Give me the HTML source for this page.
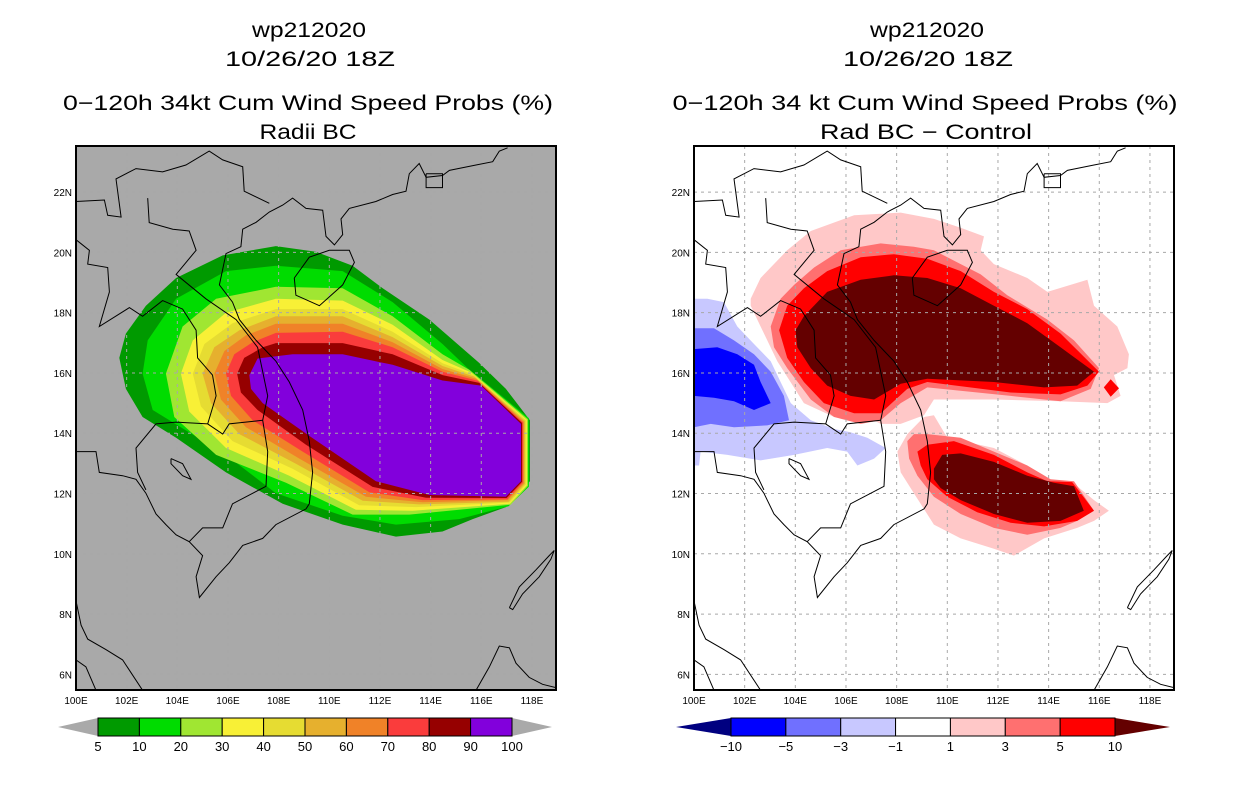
<!DOCTYPE html>
<html><head><meta charset="utf-8"><style>
html,body{margin:0;padding:0;background:#fff}
svg{display:block}
text{font-family:"Liberation Sans",sans-serif;fill:#000}
</style></head><body>
<svg id="fig" width="1236" height="800" viewBox="0 0 1236 800" xmlns="http://www.w3.org/2000/svg">
<rect width="1236" height="800" fill="#fff"/>
<g font-size="21" text-anchor="middle">
<text x="309" y="37" textLength="114" lengthAdjust="spacingAndGlyphs">wp212020</text>
<text x="310" y="66" textLength="170" lengthAdjust="spacingAndGlyphs">10/26/20 18Z</text>
<text x="308" y="110" textLength="490" lengthAdjust="spacingAndGlyphs">0−120h 34kt Cum Wind Speed Probs (%)</text>
<text x="308" y="139" textLength="97" lengthAdjust="spacingAndGlyphs">Radii BC</text>
</g>
<g font-size="21" text-anchor="middle">
<text x="927" y="37" textLength="114" lengthAdjust="spacingAndGlyphs">wp212020</text>
<text x="928" y="66" textLength="170" lengthAdjust="spacingAndGlyphs">10/26/20 18Z</text>
<text x="925" y="110" textLength="505" lengthAdjust="spacingAndGlyphs">0−120h 34 kt Cum Wind Speed Probs (%)</text>
<text x="926" y="139" textLength="212" lengthAdjust="spacingAndGlyphs">Rad BC − Control</text>
</g>
<defs>
<clipPath id="clipL"><rect x="76" y="146" width="480" height="544"/></clipPath>
<clipPath id="clipR"><rect x="694" y="146" width="480" height="544"/></clipPath>
</defs>
<g id="panelL" clip-path="url(#clipL)"></g>
<g id="panelR" clip-path="url(#clipR)"></g>
<g id="axes"></g>
<g id="bars"></g>
</svg>
<script>
// ---- axis ranges ----
const lonTicks = [100,102,104,106,108,110,112,114,116,118];
const latTicks = [6,8,10,12,14,16,18,20,22];
const leftBarLabels = ["5","10","20","30","40","50","60","70","80","90","100"];
const rightBarLabels = ["−10","−5","−3","−1","1","3","5","10"];
const leftColors = ["#009a00","#00dc00","#a0e632","#f8f036","#e6dc32","#e6b02e","#f08228","#fa3c3c","#960000","#8200dc"];
const rightColors = ["#0000ff","#7070ff","#c8c8ff","#ffffff","#ffc8c8","#ff7070","#ff0000"];
const leftLevels = [5,10,20,30,40,50,60,70,80,90];

// ---- left panel contours (lon, lat) ----
const prob5 = [[101.71,16.50],[101.97,17.31],[102.76,18.23],[103.95,19.15],[105.79,19.90],[107.89,20.21],[109.47,20.02],[110.92,19.56],[112.11,18.81],[113.95,17.77],[115.92,16.33],[116.97,15.47],[117.92,14.43],[117.92,12.41],[116.97,11.55],[115.66,11.15],[114.47,10.74],[112.63,10.57],[110.53,10.97],[108.16,11.66],[105.92,12.70],[103.95,13.85],[102.63,14.54],[101.97,15.47]];
const prob10 = [[102.63,15.98],[102.83,17.08],[103.95,18.46],[105.92,19.38],[107.89,19.56],[110.53,19.38],[112.50,18.35],[114.47,16.96],[115.46,16.16],[117.88,14.50],[117.88,12.23],[117.08,11.58],[115.13,11.15],[112.63,10.97],[110.53,11.26],[107.89,12.01],[105.92,13.28],[103.03,14.77]];
const prob20 = [[103.55,15.98],[104.21,17.54],[105.53,18.46],[107.89,18.86],[110.53,18.81],[112.50,17.88],[114.47,16.62],[115.53,16.10],[117.84,14.47],[117.84,12.25],[117.16,11.63],[113.16,11.30],[110.92,11.30],[108.29,12.36],[105.53,13.28],[103.88,14.54]];
const prob30 = [[104.14,15.98],[104.61,17.08],[105.92,18.00],[107.89,18.46],[110.53,18.40],[112.50,17.60],[114.47,16.43],[115.59,16.02],[117.80,14.45],[117.80,12.27],[117.13,11.66],[113.29,11.43],[111.05,11.46],[108.42,12.59],[105.92,13.51],[104.47,14.72]];
const prob40 = [[104.61,15.98],[105.07,16.96],[106.18,17.65],[107.89,18.12],[110.53,18.12],[112.50,17.37],[114.47,16.32],[115.66,15.95],[117.76,14.43],[117.76,12.30],[117.11,11.70],[113.42,11.55],[111.18,11.61],[108.55,12.82],[106.18,13.74],[104.93,14.89]];
const prob50 = [[105.00,15.98],[105.46,16.85],[106.45,17.42],[107.89,17.88],[110.53,17.88],[112.50,17.19],[114.47,16.23],[115.72,15.88],[117.72,14.41],[117.72,12.32],[117.08,11.73],[113.55,11.64],[111.32,11.76],[108.68,12.99],[106.45,13.97],[105.33,15.00]];
const prob60 = [[105.46,15.98],[105.86,16.73],[106.71,17.25],[107.89,17.63],[110.53,17.63],[112.50,17.02],[114.47,16.13],[115.79,15.81],[117.68,14.38],[117.68,12.34],[117.05,11.78],[113.68,11.71],[111.45,11.89],[108.82,13.16],[106.71,14.20],[105.72,15.12]];
const prob70 = [[105.92,15.98],[106.25,16.62],[106.97,17.02],[107.89,17.33],[110.53,17.37],[112.50,16.85],[114.47,16.04],[115.86,15.74],[117.64,14.36],[117.64,12.37],[117.03,11.81],[113.68,11.78],[111.58,12.04],[108.95,13.39],[106.97,14.43],[106.12,15.24]];
const prob80 = [[106.36,15.98],[106.64,16.50],[107.37,16.85],[107.89,16.99],[110.53,16.99],[112.50,16.62],[114.47,15.93],[115.92,15.67],[117.61,14.34],[117.61,12.39],[117.00,11.85],[113.82,11.86],[111.71,12.22],[109.08,13.62],[107.17,14.77],[106.51,15.35]];
const prob90 = [[106.84,15.93],[107.17,16.48],[108.55,16.62],[110.53,16.62],[112.50,16.27],[114.47,15.75],[115.99,15.58],[117.57,14.31],[117.57,12.41],[116.97,11.89],[113.95,11.95],[111.84,12.41],[109.21,13.91],[107.37,15.00],[106.91,15.47]];

// ---- right panel difference contours ----
const diffNeg1 = [[100,18.46],[100.53,18.46],[101.18,18.35],[101.71,17.54],[102.37,16.96],[103.03,16.39],[103.42,15.70],[103.82,15.00],[104.61,14.43],[105.53,14.14],[106.18,14.03],[106.84,13.85],[107.57,13.51],[107.11,13.16],[106.45,12.93],[106.05,13.39],[105.26,13.51],[103.95,13.28],[102.63,13.10],[101.32,13.28],[100.26,13.39],[100.20,12.93],[100,12.93]];
const diffNeg3 = [[100,17.48],[100.79,17.48],[101.58,17.08],[102.37,16.62],[103.03,16.04],[103.55,15.24],[103.75,14.43],[102.89,14.26],[101.58,14.20],[100.66,14.31],[100,14.20]];
const diffNeg5 = [[100,16.79],[100.92,16.85],[101.71,16.62],[102.37,16.27],[102.63,15.70],[103.03,15.00],[102.37,14.77],[101.58,15.06],[100.79,15.18],[100,15.24]];
const diffPos1N = [[102.24,18.46],[102.63,19.15],[103.68,20.07],[104.61,20.71],[106.32,21.23],[108.16,21.32],[109.47,21.11],[110.53,20.82],[111.45,20.53],[111.32,20.07],[111.84,19.61],[113.16,19.15],[113.95,18.69],[115.53,19.09],[115.79,18.23],[116.71,17.54],[117.17,16.62],[117.11,16.16],[116.58,15.93],[116.84,15.24],[116.32,15.00],[114.47,15.06],[111.84,15.12],[109.47,15.12],[109.08,14.60],[108.16,14.31],[107.37,14.31],[106.84,14.54],[105.53,14.54],[104.34,15.00],[103.29,16.39],[102.63,17.54],[102.24,18.23]];
const diffPos1S = [[108.42,13.97],[109.08,14.54],[109.47,14.60],[110.00,13.85],[111.84,13.51],[113.16,12.93],[113.95,12.47],[115.13,12.24],[115.79,11.78],[116.38,11.43],[115.79,11.09],[115.13,10.86],[113.82,10.51],[112.63,9.94],[111.84,10.17],[110.53,10.51],[109.47,10.97],[108.68,12.01],[108.16,12.70],[108.03,13.39]];
const diffPos3N = [[103.03,17.54],[103.42,18.46],[103.95,18.92],[104.74,19.50],[105.79,20.07],[107.37,20.30],[108.68,20.19],[109.47,20.07],[110.53,19.61],[111.32,19.27],[112.37,18.58],[113.95,17.77],[115.00,17.08],[115.99,16.16],[115.66,15.47],[114.47,15.06],[112.50,15.24],[109.21,15.52],[108.16,15.00],[107.37,14.43],[106.58,14.31],[105.53,14.54],[104.61,15.12],[103.68,16.16],[103.16,16.85]];
const diffPos3S = [[108.42,13.74],[108.68,13.97],[109.21,13.97],[110.53,13.85],[111.84,13.39],[113.16,12.93],[114.08,12.47],[115.00,12.41],[115.79,11.43],[115.13,11.09],[114.47,10.86],[113.16,10.63],[111.84,10.86],[110.53,11.32],[109.47,11.89],[108.82,12.59],[108.49,13.16]];
const diffPos5N = [[103.36,17.42],[103.68,18.23],[104.34,18.81],[105.26,19.38],[106.58,19.84],[107.89,19.94],[109.21,19.79],[110.53,19.38],[111.84,18.69],[113.16,18.12],[114.47,17.31],[115.99,16.04],[115.53,15.58],[114.47,15.29],[112.50,15.35],[109.21,15.70],[108.42,15.47],[107.37,14.66],[106.32,14.66],[105.13,15.00],[104.34,15.70],[103.68,16.50]];
const diffPos5S = [[108.82,13.39],[109.21,13.62],[110.26,13.74],[111.84,13.28],[113.16,12.70],[113.95,12.41],[114.93,12.38],[115.79,11.43],[115.13,11.09],[113.82,10.91],[112.50,11.03],[111.18,11.38],[110.00,11.89],[109.21,12.47],[108.95,12.93]];
const diffPos5D = [[116.18,15.52],[116.45,15.79],[116.78,15.49],[116.45,15.21]];
const diffPos10N = [[104.01,17.42],[104.34,17.88],[105.26,18.69],[106.58,19.09],[107.89,19.24],[109.21,19.15],[110.53,18.81],[111.84,18.23],[113.16,17.65],[114.47,16.85],[115.79,16.04],[115.13,15.58],[113.82,15.52],[111.84,15.70],[109.21,15.81],[108.16,15.64],[107.11,15.12],[106.18,15.24],[105.26,15.58],[104.61,16.16],[104.08,16.85]];
const diffPos10S = [[109.47,12.82],[109.80,13.28],[110.53,13.33],[111.84,13.05],[113.16,12.59],[114.21,12.36],[115.00,12.24],[115.39,11.43],[114.47,11.09],[113.16,11.03],[111.84,11.32],[110.53,11.78],[109.74,12.18],[109.47,12.47]];

// ---- coastlines / borders ----
const coastMain = [[117.04,23.47],[116.71,23.36],[116.45,23.01],[115.79,22.90],[114.74,22.72],[114.47,22.55],[113.82,22.49],[113.55,22.95],[113.16,22.61],[113.03,22.03],[112.50,21.92],[111.84,21.69],[110.79,21.46],[110.46,21.11],[110.53,20.59],[110.20,20.25],[109.87,20.53],[109.74,21.40],[109.08,21.46],[108.55,21.80],[108.16,21.57],[107.63,21.34],[107.11,21.00],[106.58,20.77],[106.51,20.19],[105.92,19.96],[105.66,18.92],[106.18,18.35],[106.45,17.77],[107.11,17.08],[107.89,16.39],[108.42,15.70],[108.95,14.77],[109.21,13.74],[109.34,12.70],[109.21,11.66],[109.08,11.49],[107.89,10.97],[107.37,10.51],[106.58,10.28],[106.05,9.70],[105.53,9.24],[104.87,8.55],[104.74,9.24],[105.00,9.94],[104.47,10.40],[103.95,10.63],[103.55,10.97],[103.16,11.32],[102.76,12.01],[102.37,12.47],[101.84,12.59],[100.92,12.70],[100.79,13.39],[100.00,13.39]];
const coastMalay = [[100,8.44],[100.20,7.63],[100.46,7.17],[101.18,6.82],[101.84,6.48],[102.63,5.47]];
const coastSW = [[100,6.48],[100.39,6.25],[100.79,5.47]];
const coastHainan = [[108.62,19.15],[109.21,19.84],[110.00,20.07],[110.79,20.07],[110.99,19.67],[110.53,18.92],[109.61,18.23],[108.68,18.58],[108.62,19.15]];
const coastPalawan = [[117.11,8.21],[117.50,8.90],[118.16,9.47],[118.68,9.94],[118.88,10.11],[118.75,9.82],[118.29,9.24],[117.63,8.67],[117.24,8.15],[117.11,8.21]];
const coastBorneo = [[115.79,5.47],[116.32,6.25],[116.71,6.94],[117.11,6.88],[117.37,6.37],[117.89,5.90],[118.42,5.67],[118.95,5.56]];
const lakeTonleSap = [[103.75,13.16],[104.21,12.99],[104.54,12.47],[104.21,12.59],[103.75,12.99],[103.75,13.16]];
const borderChina = [[100,21.69],[101.12,21.74],[101.25,21.23],[101.78,21.17],[101.58,22.44],[102.37,22.78],[103.42,22.67],[104.34,22.90],[105.26,23.36],[105.79,23.07],[106.58,22.84],[106.64,22.03],[107.63,21.63]];
const borderLaosVN = [[102.83,21.80],[102.89,20.99],[103.82,20.77],[104.47,20.71],[104.74,20.07],[103.95,19.27],[105.13,18.46],[106.32,17.77],[107.17,16.85],[107.37,16.04],[107.57,15.24],[107.37,14.43],[107.57,13.39],[107.50,12.24],[106.18,11.66],[105.79,10.86],[105.00,10.86],[104.47,10.40]];
const borderMekong = [[100,20.42],[100.53,20.07],[100.46,19.61],[101.25,19.50],[101.32,18.69],[100.92,17.54],[102.11,18.17],[102.63,17.88],[103.42,18.40],[104.21,18.12],[104.74,17.42],[104.80,16.50],[105.39,15.93],[105.53,15.24],[105.20,14.31],[103.95,14.37],[103.16,14.31],[102.37,13.51],[102.43,12.70],[102.76,12.12]];
const borderCambodia = [[105.20,14.31],[105.79,13.97],[106.05,14.31],[107.37,14.43]];
const hkBox = [[113.82,22.61],[114.47,22.61],[114.47,22.15],[113.82,22.15],[113.82,22.61]];

// ---- axis functions ----
const PX = 25.33, PY = 30.14;
function xOf(lon, x0){ return x0 + (lon - 100) * PX; }
function yOf(lat){ return 146 + (23.53 - lat) * PY; }

const NS = "http://www.w3.org/2000/svg";
function mk(tag, parent){ const e = document.createElementNS(NS, tag); parent.appendChild(e); return e; }
function pts(arr, x0){ return arr.map(p => xOf(p[0], x0).toFixed(1) + "," + yOf(p[1]).toFixed(1)).join(" "); }

function drawPanel(gid, x0, bg){
  const g = document.getElementById(gid);
  const r = mk("rect", g);
  r.setAttribute("x", x0); r.setAttribute("y", 146); r.setAttribute("width", 480); r.setAttribute("height", 544);
  r.setAttribute("fill", bg);
  
  
  return g;
}
function fillPoly(g, arr, x0, color, name){
  const p = mk("polygon", g);
  p.setAttribute("points", pts(arr, x0));
  p.setAttribute("fill", color);
  
  
}
function drawGrid(g, x0){
  lonTicks.slice(1).forEach(lon => {
    const l = mk("line", g);
    l.setAttribute("x1", xOf(lon, x0)); l.setAttribute("x2", xOf(lon, x0));
    l.setAttribute("y1", 146); l.setAttribute("y2", 690);
    l.setAttribute("stroke", "#a8a8a8"); l.setAttribute("stroke-dasharray", "3,4");
    
    
  });
  latTicks.forEach(lat => {
    const l = mk("line", g);
    l.setAttribute("x1", x0); l.setAttribute("x2", x0 + 480);
    l.setAttribute("y1", yOf(lat)); l.setAttribute("y2", yOf(lat));
    l.setAttribute("stroke", "#a8a8a8"); l.setAttribute("stroke-dasharray", "3,4");
    
    
  });
}
function drawCoast(g, x0){
  [coastMain, coastMalay, coastSW, coastHainan, coastPalawan, coastBorneo, lakeTonleSap, borderChina, borderLaosVN, borderMekong, borderCambodia, hkBox].forEach(arr => {
    const l = mk("polyline", g);
    l.setAttribute("points", pts(arr, x0));
    l.setAttribute("fill", "none"); l.setAttribute("stroke", "#000"); l.setAttribute("stroke-width", "1");
    
    
  });
}

// left panel
const gL = drawPanel("panelL", 76, "#a9a9a9");
[prob5, prob10, prob20, prob30, prob40, prob50, prob60, prob70, prob80, prob90].forEach((arr, i) => {
  fillPoly(gL, arr, 76, leftColors[i], "prob-contour-" + leftLevels[i]);
});
drawGrid(gL, 76);
drawCoast(gL, 76);

// right panel
const gR = drawPanel("panelR", 694, "#ffffff");
fillPoly(gR, diffNeg1, 694, rightColors[2], "diff-contour-neg1");
fillPoly(gR, diffNeg3, 694, rightColors[1], "diff-contour-neg3");
fillPoly(gR, diffNeg5, 694, rightColors[0], "diff-contour-neg5");
fillPoly(gR, diffPos1N, 694, rightColors[4], "diff-contour-pos1-north");
fillPoly(gR, diffPos1S, 694, rightColors[4], "diff-contour-pos1-south");
fillPoly(gR, diffPos3N, 694, rightColors[5], "diff-contour-pos3-north");
fillPoly(gR, diffPos3S, 694, rightColors[5], "diff-contour-pos3-south");
fillPoly(gR, diffPos5N, 694, rightColors[6], "diff-contour-pos5-north");
fillPoly(gR, diffPos5S, 694, rightColors[6], "diff-contour-pos5-south");
fillPoly(gR, diffPos5D, 694, rightColors[6], "diff-contour-pos5-spot");
fillPoly(gR, diffPos10N, 694, "#640000", "diff-contour-pos10-north");
fillPoly(gR, diffPos10S, 694, "#640000", "diff-contour-pos10-south");
drawGrid(gR, 694);
drawCoast(gR, 694);

// frames + tick labels
const ax = document.getElementById("axes");
[76, 694].forEach(x0 => {
  const f = mk("rect", ax);
  f.setAttribute("x", x0); f.setAttribute("y", 146); f.setAttribute("width", 480); f.setAttribute("height", 544);
  f.setAttribute("fill", "none"); f.setAttribute("stroke", "#000"); f.setAttribute("stroke-width", "2");
  
  
  latTicks.forEach(lat => {
    const t = mk("text", ax);
    t.setAttribute("x", x0 - 4); t.setAttribute("y", yOf(lat) + 4);
    t.setAttribute("font-size", "10"); t.setAttribute("text-anchor", "end");
    t.textContent = lat + "N";
    
    
  });
  lonTicks.forEach(lon => {
    const t = mk("text", ax);
    t.setAttribute("x", xOf(lon, x0)); t.setAttribute("y", 704);
    t.setAttribute("font-size", "10"); t.setAttribute("text-anchor", "middle");
    t.textContent = lon + "E";
    
    
  });
});

// colorbars
const bars = document.getElementById("bars");
function colorbar(x0, x1, tipL, tipR, colors, labels, lowColor, highColor, name){
  const y0 = 718, y1 = 736, ym = 727;
  const w = (x1 - x0) / colors.length;
  const tl = mk("polygon", bars);
  tl.setAttribute("points", `${tipL},${ym} ${x0},${y0} ${x0},${y1}`);
  tl.setAttribute("fill", lowColor);
  
  
  const tr = mk("polygon", bars);
  tr.setAttribute("points", `${tipR},${ym} ${x1},${y0} ${x1},${y1}`);
  tr.setAttribute("fill", highColor);
  
  
  colors.forEach((c, i) => {
    const r = mk("rect", bars);
    r.setAttribute("x", x0 + i * w); r.setAttribute("y", y0); r.setAttribute("width", w); r.setAttribute("height", y1 - y0);
    r.setAttribute("fill", c); r.setAttribute("stroke", "#000"); r.setAttribute("stroke-width", "1");
    
    
  });
  labels.forEach((s, i) => {
    const t = mk("text", bars);
    t.setAttribute("x", x0 + i * w); t.setAttribute("y", 751);
    t.setAttribute("font-size", "13"); t.setAttribute("text-anchor", "middle");
    t.textContent = s;
    
    
  });
}
colorbar(98, 512, 58, 552, leftColors, leftBarLabels, "#a9a9a9", "#a9a9a9", "left-colorbar");
colorbar(731, 1115, 676, 1170, rightColors, rightBarLabels, "#000080", "#640000", "right-colorbar");
</script>
</body></html>
